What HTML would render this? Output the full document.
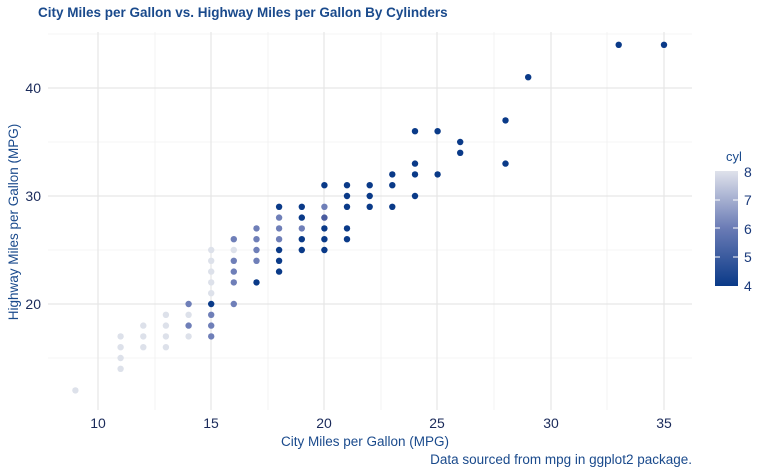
<!DOCTYPE html>
<html><head><style>body{margin:0;background:#fff}svg{display:block;font-family:"Liberation Sans",sans-serif}</style></head>
<body>
<svg width="768" height="474" xmlns="http://www.w3.org/2000/svg">
<defs><linearGradient id="g" x1="0" y1="1" x2="0" y2="0"><stop offset="0" stop-color="#0a3a88"/><stop offset="0.5" stop-color="#6a7bb5"/><stop offset="1" stop-color="#dfe2eb"/></linearGradient></defs>
<g stroke="#ebebeb" stroke-width="0.6">
<line x1="48" x2="692" y1="358" y2="358"/><line x1="48" x2="692" y1="250" y2="250"/><line x1="48" x2="692" y1="142" y2="142"/><line x1="48" x2="692" y1="34" y2="34"/>
<line x1="155" x2="155" y1="32" y2="410"/><line x1="268" x2="268" y1="32" y2="410"/><line x1="381" x2="381" y1="32" y2="410"/><line x1="494" x2="494" y1="32" y2="410"/><line x1="607" x2="607" y1="32" y2="410"/>
</g>
<g stroke="#e6e6e6" stroke-width="1.2">
<line x1="48" x2="692" y1="304" y2="304"/><line x1="48" x2="692" y1="196" y2="196"/><line x1="48" x2="692" y1="88" y2="88"/>
<line x1="98" x2="98" y1="32" y2="410"/><line x1="211" x2="211" y1="32" y2="410"/><line x1="324" x2="324" y1="32" y2="410"/><line x1="437" x2="437" y1="32" y2="410"/><line x1="551" x2="551" y1="32" y2="410"/><line x1="664" x2="664" y1="32" y2="410"/>
</g>
<g>
<circle cx="75.4" cy="390.4" r="3.2" fill="#dde1ea"/>
<circle cx="120.6" cy="368.8" r="3.2" fill="#dde1ea"/><circle cx="120.6" cy="358" r="3.2" fill="#dde1ea"/><circle cx="120.6" cy="347.2" r="3.2" fill="#dde1ea"/><circle cx="120.6" cy="336.4" r="3.2" fill="#dde1ea"/>
<circle cx="143.3" cy="347.2" r="3.2" fill="#dde1ea"/><circle cx="143.3" cy="336.4" r="3.2" fill="#dde1ea"/><circle cx="143.3" cy="325.6" r="3.2" fill="#dde1ea"/>
<circle cx="165.9" cy="347.2" r="3.2" fill="#dde1ea"/><circle cx="165.9" cy="336.4" r="3.2" fill="#dde1ea"/><circle cx="165.9" cy="325.6" r="3.2" fill="#dde1ea"/><circle cx="165.9" cy="314.8" r="3.2" fill="#dde1ea"/>
<circle cx="188.6" cy="336.4" r="3.2" fill="#dde1ea"/><circle cx="188.6" cy="325.6" r="3.2" fill="#6f7fb8"/><circle cx="188.6" cy="314.8" r="3.2" fill="#dde1ea"/><circle cx="188.6" cy="304" r="3.2" fill="#6f7fb8"/>
<circle cx="211.2" cy="336.4" r="3.2" fill="#6f7fb8"/><circle cx="211.2" cy="325.6" r="3.2" fill="#6f7fb8"/><circle cx="211.2" cy="314.8" r="3.2" fill="#6f7fb8"/><circle cx="211.2" cy="293.2" r="3.2" fill="#dde1ea"/><circle cx="211.2" cy="282.4" r="3.2" fill="#dde1ea"/><circle cx="211.2" cy="271.6" r="3.2" fill="#dde1ea"/><circle cx="211.2" cy="260.8" r="3.2" fill="#dde1ea"/><circle cx="211.2" cy="250" r="3.2" fill="#dde1ea"/><circle cx="211.2" cy="304" r="3.2" fill="#0a3a88"/>
<circle cx="233.8" cy="304" r="3.2" fill="#6f7fb8"/><circle cx="233.8" cy="282.4" r="3.2" fill="#6f7fb8"/><circle cx="233.8" cy="271.6" r="3.2" fill="#6f7fb8"/><circle cx="233.8" cy="260.8" r="3.2" fill="#6f7fb8"/><circle cx="233.8" cy="250" r="3.2" fill="#dde1ea"/><circle cx="233.8" cy="239.2" r="3.2" fill="#6f7fb8"/>
<circle cx="256.5" cy="282.4" r="3.2" fill="#0a3a88"/><circle cx="256.5" cy="260.8" r="3.2" fill="#6f7fb8"/><circle cx="256.5" cy="250" r="3.2" fill="#6f7fb8"/><circle cx="256.5" cy="239.2" r="3.2" fill="#6f7fb8"/><circle cx="256.5" cy="228.4" r="3.2" fill="#6f7fb8"/>
<circle cx="279.1" cy="271.6" r="3.2" fill="#0a3a88"/><circle cx="279.1" cy="260.8" r="3.2" fill="#0a3a88"/><circle cx="279.1" cy="250" r="3.2" fill="#0a3a88"/><circle cx="279.1" cy="239.2" r="3.2" fill="#6f7fb8"/><circle cx="279.1" cy="228.4" r="3.2" fill="#6f7fb8"/><circle cx="279.1" cy="217.6" r="3.2" fill="#6f7fb8"/><circle cx="279.1" cy="206.8" r="3.2" fill="#0a3a88"/>
<circle cx="301.8" cy="250" r="3.2" fill="#0a3a88"/><circle cx="301.8" cy="239.2" r="3.2" fill="#0a3a88"/><circle cx="301.8" cy="228.4" r="3.2" fill="#6f7fb8"/><circle cx="301.8" cy="217.6" r="3.2" fill="#0a3a88"/><circle cx="301.8" cy="206.8" r="3.2" fill="#0a3a88"/>
<circle cx="324.4" cy="250" r="3.2" fill="#0a3a88"/><circle cx="324.4" cy="239.2" r="3.2" fill="#0a3a88"/><circle cx="324.4" cy="228.4" r="3.2" fill="#0a3a88"/><circle cx="324.4" cy="217.6" r="3.2" fill="#4a5c9f"/><circle cx="324.4" cy="206.8" r="3.2" fill="#6f7fb8"/><circle cx="324.4" cy="185.2" r="3.2" fill="#0a3a88"/>
<circle cx="347" cy="239.2" r="3.2" fill="#0a3a88"/><circle cx="347" cy="228.4" r="3.2" fill="#0a3a88"/><circle cx="347" cy="206.8" r="3.2" fill="#0a3a88"/><circle cx="347" cy="196" r="3.2" fill="#0a3a88"/><circle cx="347" cy="185.2" r="3.2" fill="#0a3a88"/>
<circle cx="369.7" cy="206.8" r="3.2" fill="#0a3a88"/><circle cx="369.7" cy="196" r="3.2" fill="#0a3a88"/><circle cx="369.7" cy="185.2" r="3.2" fill="#0a3a88"/>
<circle cx="392.3" cy="206.8" r="3.2" fill="#0a3a88"/><circle cx="392.3" cy="185.2" r="3.2" fill="#0a3a88"/><circle cx="392.3" cy="174.4" r="3.2" fill="#0a3a88"/>
<circle cx="415" cy="196" r="3.2" fill="#0a3a88"/><circle cx="415" cy="174.4" r="3.2" fill="#0a3a88"/><circle cx="415" cy="163.6" r="3.2" fill="#0a3a88"/><circle cx="415" cy="131.2" r="3.2" fill="#0a3a88"/>
<circle cx="437.6" cy="174.4" r="3.2" fill="#0a3a88"/><circle cx="437.6" cy="131.2" r="3.2" fill="#0a3a88"/>
<circle cx="460.2" cy="152.8" r="3.2" fill="#0a3a88"/><circle cx="460.2" cy="142" r="3.2" fill="#0a3a88"/>
<circle cx="505.5" cy="163.6" r="3.2" fill="#0a3a88"/><circle cx="505.5" cy="120.4" r="3.2" fill="#0a3a88"/>
<circle cx="528.2" cy="77.2" r="3.2" fill="#0a3a88"/>
<circle cx="618.7" cy="44.8" r="3.2" fill="#0a3a88"/><circle cx="664" cy="44.8" r="3.2" fill="#0a3a88"/>
</g>
<text x="38" y="17" font-size="13.5" font-weight="bold" fill="#1a4a8c">City Miles per Gallon vs. Highway Miles per Gallon By Cylinders</text>
<g font-size="14" fill="#1a2a5a" text-anchor="middle">
<text x="98" y="428">10</text><text x="211" y="428">15</text><text x="324" y="428">20</text><text x="437" y="428">25</text><text x="551" y="428">30</text><text x="664" y="428">35</text>
</g>
<g font-size="14" fill="#1a2a5a" text-anchor="end">
<text x="41" y="309">20</text><text x="41" y="201">30</text><text x="41" y="93">40</text>
</g>
<text x="365" y="446" font-size="13.5" fill="#1a4a8c" text-anchor="middle">City Miles per Gallon (MPG)</text>
<text x="692" y="464" font-size="13.5" fill="#1a4a8c" text-anchor="end">Data sourced from mpg in ggplot2 package.</text>
<text transform="translate(18,222) rotate(-90)" font-size="13.5" fill="#1a4a8c" text-anchor="middle">Highway Miles per Gallon (MPG)</text>
<text x="734" y="161" font-size="13" fill="#1a4a8c" text-anchor="middle">cyl</text>
<rect x="715" y="171" width="23" height="115" fill="url(#g)"/>
<g stroke="#fff" stroke-width="1"><line x1="715" x2="720" y1="200" y2="200"/><line x1="733" x2="738" y1="200" y2="200"/><line x1="715" x2="720" y1="228" y2="228"/><line x1="733" x2="738" y1="228" y2="228"/><line x1="715" x2="720" y1="257" y2="257"/><line x1="733" x2="738" y1="257" y2="257"/></g>
<g font-size="14" fill="#1a3a7b"><text x="744" y="177">8</text><text x="744" y="205">7</text><text x="744" y="234">6</text><text x="744" y="262">5</text><text x="744" y="291">4</text></g>
</svg>
</body></html>
